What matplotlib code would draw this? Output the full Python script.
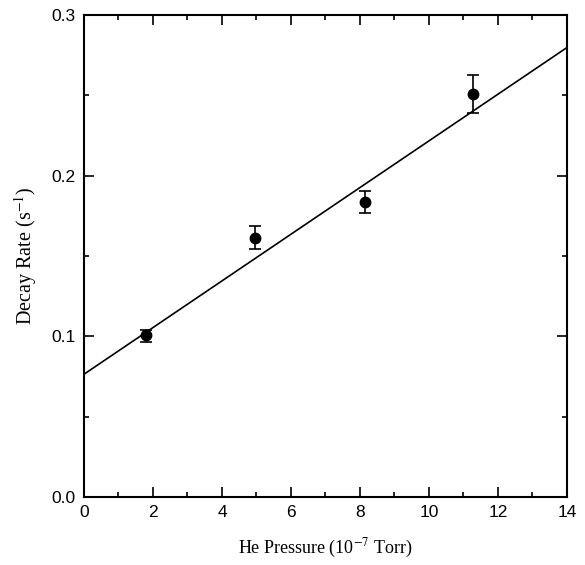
import matplotlib
matplotlib.use('Agg')
import matplotlib.pyplot as plt
from matplotlib.ticker import MultipleLocator

# data
pressure = [1.79, 4.96, 8.14, 11.28]          # He pressure (1e-7 Torr)
rate = [0.1008, 0.161, 0.1836, 0.2508]         # decay rate (1/s)
err_low = [0.0045, 0.0068, 0.0069, 0.012]
err_high = [0.003, 0.0075, 0.0068, 0.0118]

fit_x = [0, 14]
fit_y = [0.0764, 0.2797]

plt.rcParams['mathtext.fontset'] = 'stix'

fig = plt.figure(figsize=(5.85, 5.65), dpi=100)
ax = fig.add_axes([0.1436, 0.1204, 0.8254, 0.8531])

ax.plot(fit_x, fit_y, color='black', lw=1.2)
ax.errorbar(pressure, rate, yerr=[err_low, err_high], fmt='o', color='black',
            ms=7.5, elinewidth=1.2, capsize=4, capthick=1.2)

ax.set_xlim(0, 14)
ax.set_ylim(0, 0.3)
ax.xaxis.set_major_locator(MultipleLocator(2))
ax.xaxis.set_minor_locator(MultipleLocator(1))
ax.yaxis.set_major_locator(MultipleLocator(0.1))
ax.yaxis.set_minor_locator(MultipleLocator(0.05))
ax.tick_params(which='both', direction='in', top=True, right=True, width=1.2)
ax.tick_params(which='major', length=7, pad=6)
ax.tick_params(which='minor', length=3.5)
for s in ax.spines.values():
    s.set_linewidth(1.5)

for lab in ax.get_xticklabels() + ax.get_yticklabels():
    lab.set_family('Liberation Sans')
    lab.set_fontsize(12.5)

ax.set_xlabel('He Pressure (10$^{-7}$ Torr)', family='Liberation Serif',
              fontsize=13, labelpad=12)
ax.set_ylabel('Decay Rate (s$^{-1}$)', family='Liberation Serif',
              fontsize=14.5, labelpad=9)

fig.savefig('out.png', dpi=100)
